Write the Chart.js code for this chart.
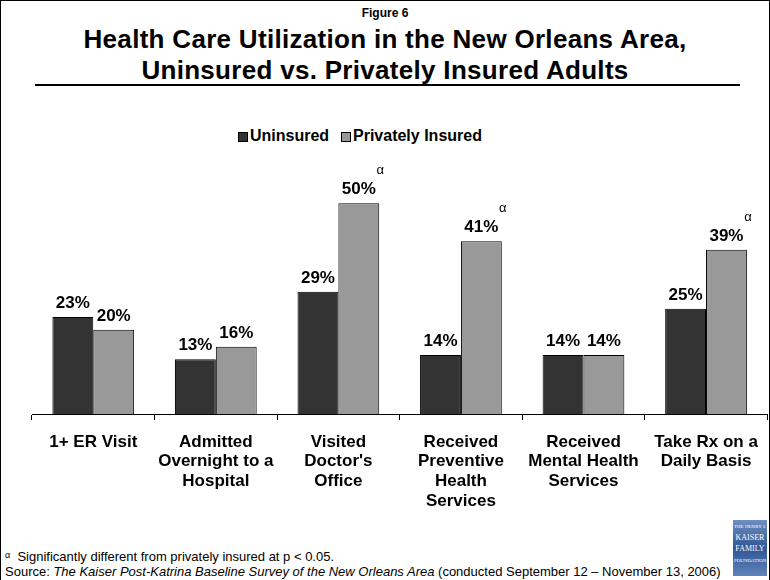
<!DOCTYPE html>
<html>
<head>
<meta charset="utf-8">
<script src="https://cdn.jsdelivr.net/npm/chart.js@4"></script>
<style>
    body { margin: 0; background: #fff; font-family: "Liberation Sans", Arial, sans-serif; }
    #page { position: relative; width: 770px; height: 580px; overflow: hidden; }
    #frame { position: absolute; left: 0; top: 0; width: 768px; height: 590px; border: 1px solid #000; }
    .fig { position: absolute; top: 6px; left: 0; width: 770px; text-align: center; font-weight: bold; font-size: 12px; }
    .title { position: absolute; top: 24px; left: 0; width: 770px; text-align: center; font-weight: bold;
             font-size: 26px; line-height: 31px; letter-spacing: 0.3px; }
    .rule { position: absolute; top: 84px; left: 35px; width: 705px; height: 2px; background: #000; }
    .legend { position: absolute; top: 127px; font-weight: bold; font-size: 16px; white-space: nowrap; }
    .legend i { position: absolute; top: 5px; width: 8px; height: 8px; border: 1px solid #000; }
    #chartBox { position: absolute; left: 0; top: 140px; width: 770px; height: 383px; }
    .foot { position: absolute; left: 5px; font-size: 13px; color: #000; white-space: nowrap; }
    .logo { position: absolute; left: 733px; top: 520px; width: 34px; height: 56px;
            background: linear-gradient(#6d8fc2, #2f5695 50%, #5f82b9); color: #fff;
            font-family: "Liberation Serif", serif; font-size: 8px; line-height: 11px; text-align: center; overflow: hidden; }
</style>
</head>
<body>
<div id="page">
    <div id="frame"></div>
    <div class="fig">Figure 6</div>
    <div class="title">Health Care Utilization in the New Orleans Area,<br>Uninsured vs. Privately Insured Adults</div>
    <div class="rule"></div>
    <div class="legend" style="left:238px;"><i style="left:0;background:#333;"></i><span style="margin-left:12px;">Uninsured</span></div>
    <div class="legend" style="left:341px;"><i style="left:0;background:#999;"></i><span style="margin-left:12px;">Privately Insured</span></div>
    <div id="chartBox"><canvas id="utilChart"></canvas></div>
    <div class="foot" style="top:549px;"><span style="font-size:9px;vertical-align:3px;">α</span>&nbsp; Significantly different from privately insured at p &lt; 0.05.</div>
    <div class="foot" style="top:564px;">Source: <i>The Kaiser Post-Katrina Baseline Survey of the New Orleans Area</i> (conducted September 12 – November 13, 2006)</div>
    <div class="logo"><span style="font-size:5px;">THE HENRY J.</span><br>KAISER<br>FAMILY<br><span style="font-size:5px;">FOUNDATION</span></div>
</div>
<script>
const categories = [
    ["1+ ER Visit"],
    ["Admitted", "Overnight to a", "Hospital"],
    ["Visited", "Doctor's", "Office"],
    ["Received", "Preventive", "Health", "Services"],
    ["Received", "Mental Health", "Services"],
    ["Take Rx on a", "Daily Basis"]
];
const uninsured = [23, 13, 29, 14, 14, 25];
const privatelyInsured = [20, 16, 50, 41, 14, 39];
// true where privately insured differs significantly
const significant = [false, false, true, true, false, true];

// Draw the percent labels and alpha markers above the bars
const barLabels = {
    id: "barLabels",
    afterDatasetsDraw(chart) {
        const ctx = chart.ctx;
        ctx.save();
        ctx.fillStyle = "#000";
        ctx.textAlign = "center";
        ctx.textBaseline = "alphabetic";
        chart.data.datasets.forEach((ds, i) => {
            chart.getDatasetMeta(i).data.forEach((bar, j) => {
                ctx.font = "bold 17px 'Liberation Sans', Arial, sans-serif";
                ctx.fillText(ds.data[j] + "%", bar.x, bar.y - 9);
                if (i === 1 && significant[j]) {
                    ctx.font = "13px 'Liberation Sans', Arial, sans-serif";
                    ctx.fillText("α", bar.x + bar.width / 2 + 1, bar.y - 29);
                }
            });
        });
        ctx.restore();
    }
};

new Chart(document.getElementById("utilChart"), {
    type: "bar",
    data: {
        labels: categories,
        datasets: [
            {
                label: "Uninsured",
                data: uninsured,
                backgroundColor: "#333333",
                borderColor: "#000",
                borderWidth: 1,
            },
            {
                label: "Privately Insured",
                data: privatelyInsured,
                backgroundColor: "#999999",
                borderColor: "#000",
                borderWidth: 1,
            },
        ],
    },
    options: {
        responsive: true,
        maintainAspectRatio: false,
        animation: false,
        datasets: { bar: { categoryPercentage: 0.667, barPercentage: 1 } },
        layout: { padding: { left: 32, right: 2, top: 0, bottom: 0 } },
        plugins: {
            legend: { display: false },
            tooltip: { enabled: false },
        },
        scales: {
            x: {
                grid: { drawOnChartArea: false, color: "#000", tickLength: 6, offset: true },
                border: { color: "#000", width: 1 },
                ticks: {
                    color: "#000",
                    padding: 12,
                    maxRotation: 0,
                    autoSkip: false,
                    font: { family: "'Liberation Sans', Arial, sans-serif", size: 17, weight: "bold", lineHeight: 1.16 },
                },
            },
            y: { display: false, min: 0, max: 65 },
        },
    },
    plugins: [barLabels],
});
</script>
</body>
</html>
